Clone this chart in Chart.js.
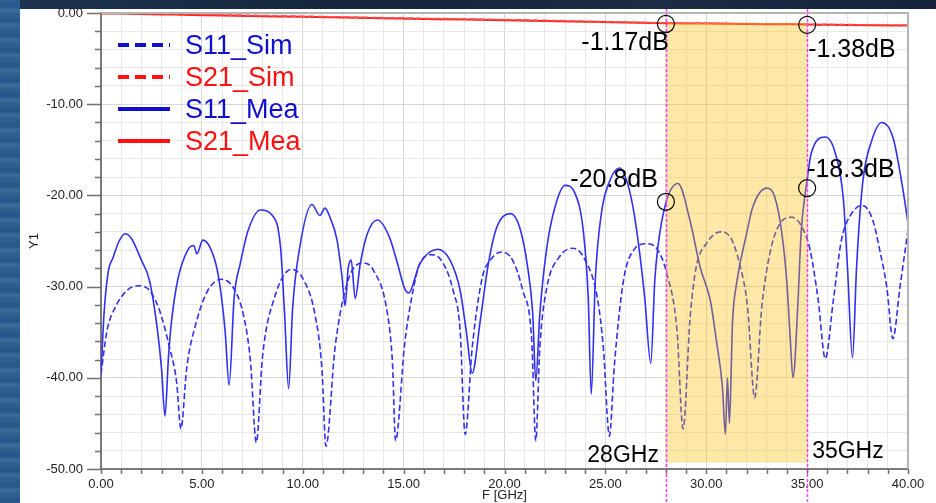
<!DOCTYPE html>
<html><head><meta charset="utf-8">
<script src="https://cdn.jsdelivr.net/npm/chart.js@4.4.1/dist/chart.umd.min.js"></script>
<style>
html,body{margin:0;padding:0;width:936px;height:503px;overflow:hidden;background:#172a42;}
#topstrip{position:absolute;left:0;top:0;width:936px;height:9px;background:linear-gradient(90deg,#1d3350,#15263b 40%,#1a2d45 70%,#14233a);}
#leftstrip{position:absolute;left:0;top:0;width:20px;height:503px;background:repeating-linear-gradient(180deg,#2f6190 0px,#24548a 6px,#3a6e9c 10px,#2a5a8a 15px);}
#panel{position:absolute;left:20px;top:9px;width:916px;height:494px;background:#ffffff;}
#c{position:absolute;left:0;top:0;}
</style></head>
<body>
<div id="topstrip"></div><div id="leftstrip"></div><div id="panel"></div>
<canvas id="c" width="936" height="503"></canvas>
<script>
// ---------------- data ----------------
const seriesNames = ['S11_Sim', 'S21_Sim', 'S11_Mea', 'S21_Mea'];

const s11SimF = [0,0.3,0.7,1.3,1.85,2.4,2.9,3.4,3.75,3.96,4.25,4.75,5.3,6.0,6.55,7.05,7.4,7.7,8.0,8.6,9.45,10.0,10.6,10.95,11.15,11.6,12.25,13.0,13.5,14.2,14.45,14.6,15.05,15.4,15.8,16.4,16.95,17.45,17.8,18.05,18.4,18.9,19.3,19.85,20.4,20.9,21.35,21.55,21.75,22.1,22.7,23.4,24.0,24.6,24.9,25.2,25.45,25.9,26.4,27.05,27.6,28.05,28.55,28.85,29.2,29.5,30.0,30.7,31.2,31.65,32.05,32.4,32.75,33.15,33.65,34.25,34.75,35.15,35.55,35.9,36.3,36.7,37.2,37.75,38.25,38.6,38.95,39.25,39.6,40.0];
const s11SimDb = [-39.6,-34.8,-32.3,-30.4,-29.9,-30.4,-32.6,-36.7,-40.5,-45.6,-38.9,-33.7,-30.4,-29.2,-30.1,-33.0,-38.0,-47.1,-37.8,-31.2,-28.1,-29.1,-33.0,-39.0,-47.5,-36.7,-29.3,-27.4,-28.2,-33.0,-38.5,-46.9,-36.3,-31.2,-27.5,-26.5,-27.4,-30.4,-34.8,-46.2,-36.7,-29.0,-27.1,-26.2,-27.1,-30.4,-35.9,-46.9,-36.7,-30.1,-26.8,-25.8,-27.1,-31.2,-36.7,-46.4,-38.5,-29.3,-26.0,-25.3,-26.0,-28.6,-34.8,-45.6,-33.4,-27.9,-25.3,-24.0,-24.6,-27.5,-32.3,-42.2,-32.3,-26.4,-23.1,-22.4,-23.5,-26.0,-31.5,-37.9,-31.5,-24.9,-22.0,-21.1,-22.7,-26.0,-30.1,-35.7,-30.1,-23.8];

const s11MeaF = [0,0.15,0.35,0.6,0.9,1.2,1.5,2.0,2.4,2.8,3.0,3.17,3.35,3.5,3.8,4.3,4.6,4.75,5.05,5.4,5.8,6.15,6.35,6.6,6.9,7.3,7.9,8.5,8.9,9.1,9.3,9.5,9.85,10.45,10.85,11.1,11.35,11.7,11.95,12.1,12.25,12.4,12.6,12.85,13.2,13.7,14.3,14.7,15.05,15.25,15.8,16.7,17.3,17.8,18.1,18.4,18.8,19.2,19.6,20.3,20.75,21.15,21.4,21.55,21.75,22.1,22.5,23.0,23.5,23.9,24.15,24.3,24.5,24.8,25.2,25.7,26.2,26.55,26.95,27.25,27.45,27.6,28.0,28.6,29.2,29.7,30.2,30.5,30.8,30.95,31.05,31.15,31.3,31.5,32.0,32.3,33.0,33.4,33.75,34.0,34.15,34.3,34.55,34.7,35.0,35.2,35.9,36.4,36.8,37.0,37.25,37.45,37.75,38.2,38.7,39.25,39.7,40.0];
const s11MeaDb = [-39.6,-33.0,-28.5,-26.8,-25.0,-24.2,-24.7,-27.1,-29.3,-34.8,-39.0,-44.2,-37.5,-33.7,-29.3,-26.0,-25.5,-26.4,-24.9,-25.7,-28.6,-34.8,-40.8,-31.2,-27.5,-23.8,-21.6,-22.2,-25.7,-33.0,-41.2,-32.3,-25.7,-21.0,-22.2,-21.4,-22.4,-24.9,-29.0,-32.1,-28.0,-27.1,-31.3,-27.5,-24.2,-22.7,-24.6,-27.5,-30.2,-30.7,-27.5,-25.9,-27.1,-30.4,-34.8,-39.5,-33.7,-27.5,-23.6,-22.0,-23.5,-27.9,-33.0,-40.3,-33.0,-25.7,-21.3,-18.9,-19.8,-23.8,-31.2,-41.8,-29.3,-22.0,-18.5,-17.0,-19.5,-23.8,-31.2,-38.4,-29.3,-25.7,-20.8,-18.7,-22.8,-27.9,-31.5,-35.9,-41.0,-46.2,-40.0,-45.0,-34.0,-29.7,-24.2,-21.3,-19.2,-20.2,-24.2,-29.7,-35.2,-40.0,-31.5,-24.2,-18.3,-15.4,-13.6,-15.4,-20.5,-27.9,-37.8,-27.9,-18.7,-14.0,-12.0,-13.6,-18.7,-23.0];

const s21SimF = [0,2,5,8,10,13,15,18,20,23,25,28,30,32,35,37,40];
const s21SimDb = [0.0,-0.06,-0.15,-0.28,-0.35,-0.47,-0.55,-0.65,-0.72,-0.85,-0.95,-1.08,-1.12,-1.16,-1.22,-1.27,-1.33];

const s21MeaF = [0,1,2,3,4,6,8,10,12,14,16,18,20,22,24,26,28,30,32,34,35,36,38,40];
const s21MeaDb = [-0.05,-0.06,-0.1,-0.16,-0.18,-0.28,-0.35,-0.42,-0.5,-0.58,-0.65,-0.72,-0.8,-0.88,-0.96,-1.05,-1.12,-1.16,-1.2,-1.24,-1.26,-1.3,-1.35,-1.38];

// markers (circles) and their labels
const markerF = [28, 35, 28, 35];
const markerDb = [-1.2, -1.3, -20.7, -19.2];
const markerText = ['-1.17dB', '-1.38dB', '-20.8dB', '-18.3dB'];
// highlighted band
const bandF = [28, 35];
const bandDb = [-1.1, -49.3];
const bandText = ['28GHz', '35GHz'];

// ---------------- styles ----------------
const FONT = 'Arial, "Liberation Sans", sans-serif';
const CURVE_BLUE = '#3030ee';
const CURVE_RED = '#ff2222';
const LEGEND_COLORS = ['#1010cc', '#ff1010', '#1010cc', '#ff1010'];
const LEGEND_DASHED = [true, true, false, false];

function pts(fx, fy) { return fx.map((f, i) => ({x: f, y: fy[i]})); }

const overlay = {
  id: 'overlay',
  afterDatasetsDraw(chart) {
    const ctx = chart.ctx, xs = chart.scales.x, ys = chart.scales.y, a = chart.chartArea;
    const px = v => xs.getPixelForValue(v), py = v => ys.getPixelForValue(v);
    ctx.save();
    // band
    ctx.fillStyle = 'rgba(249,189,0,0.34)';
    ctx.fillRect(px(bandF[0]), py(bandDb[0]), px(bandF[1]) - px(bandF[0]), py(bandDb[1]) - py(bandDb[0]));
    // magenta dashed verticals
    ctx.strokeStyle = '#ff3cff'; ctx.lineWidth = 1.5; ctx.setLineDash([3, 2]);
    bandF.forEach(f => { ctx.beginPath(); ctx.moveTo(Math.round(px(f)) + 0.5, 9); ctx.lineTo(Math.round(px(f)) + 0.5, 503); ctx.stroke(); });
    ctx.setLineDash([]);
    // frame top/right
    ctx.strokeStyle = '#b4b4b4'; ctx.lineWidth = 2;
    ctx.beginPath(); ctx.moveTo(a.left, a.top); ctx.lineTo(a.right, a.top); ctx.lineTo(a.right, a.bottom); ctx.stroke();
    // tick marks
    ctx.strokeStyle = '#707070'; ctx.lineWidth = 1.5;
    ys.ticks.forEach(t => {
      const y = Math.round(py(t.value)) + 0.5;
      const len = (t.value % 10 === 0) ? 14 : 6;
      ctx.beginPath(); ctx.moveTo(a.left - len, y); ctx.lineTo(a.left, y); ctx.stroke();
    });
    xs.ticks.forEach(t => {
      const x = Math.round(px(t.value)) + 0.5;
      ctx.beginPath(); ctx.moveTo(x, a.bottom); ctx.lineTo(x, a.bottom + 5); ctx.stroke();
    });
    // circles
    ctx.strokeStyle = '#000'; ctx.lineWidth = 1.2;
    markerF.forEach((f, i) => { ctx.beginPath(); ctx.arc(px(f), py(markerDb[i]), 8.5, 0, Math.PI * 2); ctx.stroke(); });
    // marker labels
    ctx.fillStyle = '#000'; ctx.textBaseline = 'alphabetic';
    ctx.font = '25px ' + FONT;
    ctx.textAlign = 'right'; ctx.fillText(markerText[0], px(markerF[0]) + 3, 50);
    ctx.textAlign = 'left';  ctx.fillText(markerText[1], px(markerF[1]) + 1, 57);
    ctx.textAlign = 'right'; ctx.fillText(markerText[2], px(markerF[2]) - 8, 187);
    ctx.textAlign = 'left';  ctx.fillText(markerText[3], px(markerF[3]) + 0, 177);
    ctx.font = '23px ' + FONT;
    ctx.textAlign = 'right'; ctx.fillText(bandText[0], px(bandF[0]) - 7, 462);
    ctx.textAlign = 'left';  ctx.fillText(bandText[1], px(bandF[1]) + 5, 458);
    // legend
    ctx.font = '27px ' + FONT; ctx.textAlign = 'left'; ctx.textBaseline = 'middle';
    chart.data.datasets.slice(0, 4).forEach((ds, i) => {
      const cy = 47 + 32 * i;
      ctx.strokeStyle = LEGEND_COLORS[i]; ctx.lineWidth = 4;
      ctx.setLineDash(LEGEND_DASHED[i] ? [11, 6] : []);
      ctx.beginPath(); ctx.moveTo(118, cy - 2); ctx.lineTo(170, cy - 2); ctx.stroke();
      ctx.setLineDash([]);
      ctx.fillStyle = LEGEND_COLORS[i];
      ctx.fillText(ds.label, 185, cy);
    });
    ctx.restore();
  }
};

const gridColor = (major) => (c) => (c.tick && c.tick.value % major === 0) ? '#d6d6d6' : '#e8e8e8';

new Chart(document.getElementById('c'), {
  type: 'line',
  data: {
    datasets: [
      {label: seriesNames[0], data: pts(s11SimF, s11SimDb), borderColor: CURVE_BLUE, borderWidth: 1.6, borderDash: [6, 3]},
      {label: seriesNames[1], data: pts(s21SimF, s21SimDb), borderColor: '#ff5050', borderWidth: 1.6, borderDash: [6, 3]},
      {label: seriesNames[2], data: pts(s11MeaF, s11MeaDb), borderColor: CURVE_BLUE, borderWidth: 1.6},
      {label: seriesNames[3], data: pts(s21MeaF, s21MeaDb), borderColor: CURVE_RED, borderWidth: 2}
    ]
  },
  options: {
    responsive: false, animation: false, devicePixelRatio: 1,
    layout: {padding: {top: 13, right: 28, left: 0, bottom: 0}},
    elements: {point: {radius: 0}, line: {cubicInterpolationMode: 'monotone', fill: false}},
    plugins: {legend: {display: false}, tooltip: {enabled: false}},
    scales: {
      x: {
        type: 'linear', min: 0, max: 40,
        afterFit: s => { s.height = 34; s.paddingLeft = 0; s.paddingRight = 0; },
        grid: {color: gridColor(5), drawTicks: false, lineWidth: 1},
        border: {display: true, color: '#7a7a7a', width: 2},
        ticks: {stepSize: 1, autoSkip: false, maxRotation: 0, padding: 8, color: '#222',
                font: {family: FONT, size: 13},
                callback: v => (v % 5 === 0 ? v.toFixed(2) : '')},
        title: {display: true, text: 'F [GHz]', color: '#222', font: {family: FONT, size: 13}, padding: {top: 0, bottom: 0}}
      },
      y: {
        type: 'linear', min: -50, max: 0,
        afterFit: s => { s.width = 101; s.paddingTop = 0; s.paddingBottom = 0; },
        grid: {color: gridColor(10), drawTicks: false, lineWidth: 1},
        border: {display: true, color: '#7a7a7a', width: 2},
        ticks: {stepSize: 2, autoSkip: false, padding: 18, color: '#222',
                font: {family: FONT, size: 13},
                callback: v => (v % 10 === 0 ? v.toFixed(2) : '')},
        title: {display: true, text: 'Y1', color: '#222', font: {family: FONT, size: 13}, padding: {top: 27, bottom: 0}}
      }
    }
  },
  plugins: [overlay]
});
</script>
</body></html>
